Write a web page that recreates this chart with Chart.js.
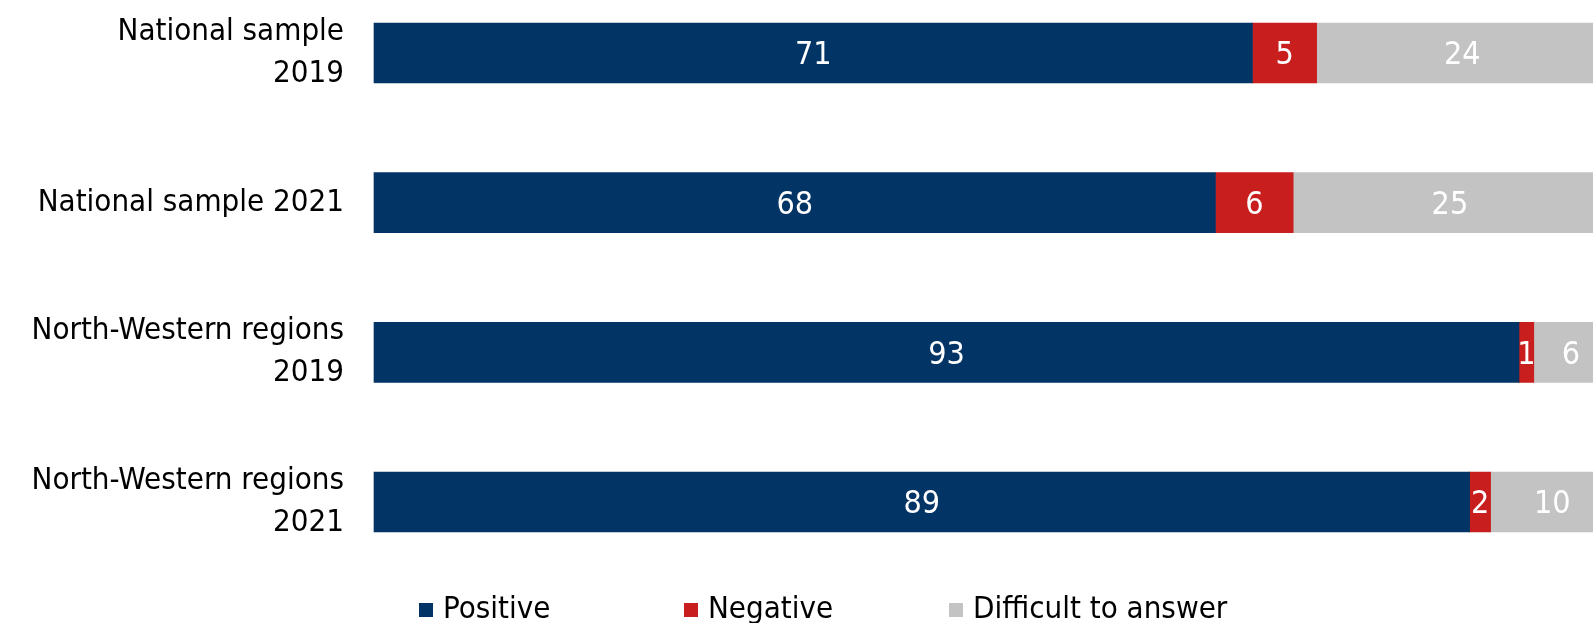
<!DOCTYPE html>
<html>
<head>
<meta charset="utf-8">
<script src="https://cdn.jsdelivr.net/npm/chart.js@4.4.0/dist/chart.umd.min.js"></script>
<style>
  html, body { margin: 0; padding: 0; background: #ffffff; }
  #wrap { position: relative; width: 1593px; height: 623px; }
</style>
</head>
<body>
<div id="wrap"><canvas id="surveyChart"></canvas></div>
<script>
const categories = [
    ['National sample', '2019'],
    'National sample 2021',
    ['North-Western regions', '2019'],
    ['North-Western regions', '2021']
];
const seriesNames = ['Positive', 'Negative', 'Difficult to answer'];
const positive = [71.2, 68.2, 92.8, 88.8];
const negative = [5.2, 6.3, 1.2, 1.7];
const difficult = [23.6, 25.4, 6.0, 10.0];
const shownLabels = [
    [71, 68, 93, 89],
    [5, 6, 1, 2],
    [24, 25, 6, 10]
];
const seriesColors = ['#023466', '#c81e1e', '#c3c3c3'];
const fontFamily = "'Liberation Sans Narrow', 'DejaVu Sans Condensed', 'Roboto', sans-serif";

// white numbers in the middle of each segment
const segmentLabels = {
    id: 'segmentLabels',
    afterDatasetsDraw(chart) {
        const ctx = chart.ctx;
        ctx.save();
        ctx.fillStyle = '#ffffff';
        ctx.font = '32px ' + fontFamily;
        ctx.textAlign = 'center';
        ctx.textBaseline = 'middle';
        chart.data.datasets.forEach((ds, i) => {
            chart.getDatasetMeta(i).data.forEach((bar, j) => {
                const p = bar.getProps(['x', 'base', 'y'], true);
                ctx.fillText(shownLabels[i][j], (p.x + p.base) / 2, p.y + 3);
            });
        });
        ctx.restore();
    }
};

// legend along the bottom edge
const bottomLegend = {
    id: 'bottomLegend',
    afterDraw(chart) {
        const ctx = chart.ctx;
        const starts = [419, 684, 949];
        ctx.save();
        ctx.font = '31px ' + fontFamily;
        ctx.textBaseline = 'alphabetic';
        ctx.textAlign = 'left';
        seriesNames.forEach((name, i) => {
            ctx.fillStyle = seriesColors[i];
            ctx.fillRect(starts[i], 603, 14, 14);
            ctx.fillStyle = '#000000';
            ctx.fillText(name, starts[i] + 24, 618);
        });
        ctx.restore();
    }
};

new Chart(document.getElementById('surveyChart'), {
    type: 'bar',
    data: {
        labels: categories,
        datasets: [
            { label: seriesNames[0], data: positive, backgroundColor: seriesColors[0] },
            { label: seriesNames[1], data: negative, backgroundColor: seriesColors[1] },
            { label: seriesNames[2], data: difficult, backgroundColor: seriesColors[2] }
        ].map(d => Object.assign(d, { barThickness: 60, borderWidth: 0, clip: false }))
    },
    options: {
        indexAxis: 'y',
        responsive: true,
        maintainAspectRatio: false,
        animation: false,
        layout: { padding: { top: 53, bottom: 121, left: 0, right: 0 } },
        scales: {
            x: {
                stacked: true,
                display: false,
                min: 0,
                max: 98.8
            },
            y: {
                stacked: true,
                offset: false,
                grid: { display: false, drawTicks: false },
                border: { display: false },
                afterFit: (s) => {
                    s.width = 374;
                    s.paddingTop = 0;
                    s.paddingBottom = 0;
                },
                ticks: {
                    color: '#000000',
                    padding: 30,
                    font: { family: fontFamily, size: 31, lineHeight: 1.35 }
                }
            }
        },
        plugins: {
            legend: { display: false },
            tooltip: { enabled: false }
        }
    },
    plugins: [segmentLabels, bottomLegend]
});
</script>
</body>
</html>
